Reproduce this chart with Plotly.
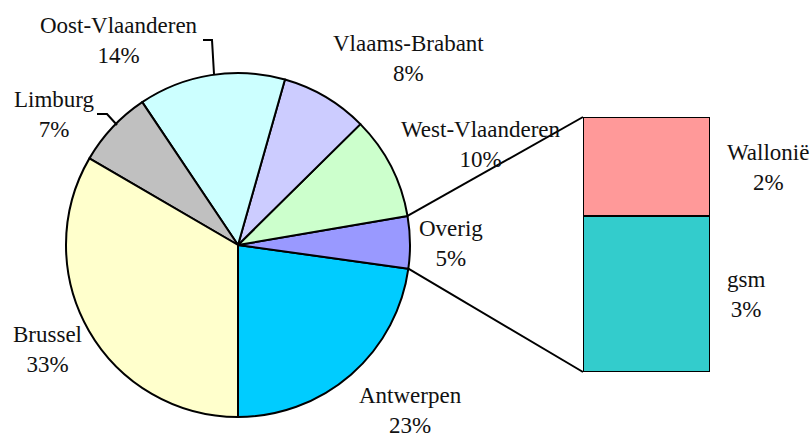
import math
import plotly.graph_objects as go

# ---- data (percent of total) ----
regions = ["Antwerpen", "Overig", "West-Vlaanderen", "Vlaams-Brabant",
           "Oost-Vlaanderen", "Limburg", "Brussel"]
shares = [22.8, 4.9, 9.7, 8.2, 13.8, 7.2, 33.4]
region_colors = ["#00CCFF", "#9999FF", "#CCFFCC", "#CCCCFF",
                 "#CCFFFF", "#C0C0C0", "#FFFFCC"]

overig_parts = ["gsm", "Wallonië"]
overig_shares = [3.0, 1.9]
overig_colors = ["#33CCCC", "#FF9999"]

W, H = 812, 437
FONT = dict(family="Liberation Serif, Times New Roman, serif", size=23, color="#111111")

def px(x):
    return x / W

def py(y):
    return 1 - y / H

total = sum(shares)

# pie geometry (pixels)
cx, cy, r = 238, 245, 172
pie_dom_x = [px(cx - r), px(cx + r)]
pie_dom_y = [py(cy + r), py(cy - r)]

# bar geometry (pixels)
bx0, bx1, by0, by1 = 583, 710, 117, 372

# first slice (Antwerpen) starts at 6 o'clock and runs counterclockwise;
# plotly places the first counterclockwise slice's end at `rotation`
rotation = 180 - 360 * shares[0] / total

fig = go.Figure()
fig.add_trace(go.Pie(
    labels=regions, values=shares, sort=False, direction="counterclockwise",
    rotation=rotation, textinfo="none", hoverinfo="label+percent",
    marker=dict(colors=region_colors, line=dict(color="black", width=2)),
    domain=dict(x=pie_dom_x, y=pie_dom_y), showlegend=False,
))

for name, val, col in zip(overig_parts, overig_shares, overig_colors):
    fig.add_trace(go.Bar(
        x=["Overig"], y=[val], name=name, xaxis="x2", yaxis="y2",
        marker=dict(color=col, line=dict(color="black", width=2)),
        showlegend=False, width=1,
    ))

label_pos = {
    "Antwerpen": (410, 410),
    "Overig": (451, 243),
    "West-Vlaanderen": (481, 145),
    "Vlaams-Brabant": (408, 58),
    "Oost-Vlaanderen": (119, 40),
    "Limburg": (54, 114),
    "Brussel": (47, 349),
}
annotations = []
for name, val in zip(regions, shares):
    x, y = label_pos[name]
    annotations.append(dict(
        x=px(x), y=py(y), xref="paper", yref="paper", showarrow=False,
        text=f"{name}<br>{round(100 * val / total)}%", font=FONT,
        xanchor="center", yanchor="middle", align="center"))

bar_label_pos = {"Wallonië": (768, 167), "gsm": (746, 294)}
for name, val in zip(overig_parts, overig_shares):
    x, y = bar_label_pos[name]
    annotations.append(dict(
        x=px(x), y=py(y), xref="paper", yref="paper", showarrow=False,
        text=f"{name}<br>{round(100 * val / total)}%", font=FONT,
        xanchor="center", yanchor="middle", align="center"))

# connector lines from Overig slice edges to bar corners
idx = regions.index("Overig")
start_frac = sum(shares[:idx]) / total
end_frac = sum(shares[:idx + 1]) / total

def pie_point(frac):
    ang = math.radians(-90 + 360 * frac)
    return cx + r * math.cos(ang), cy - r * math.sin(ang)

sx, sy = pie_point(start_frac)
ex, ey = pie_point(end_frac)
shapes = [
    dict(type="line", xref="paper", yref="paper", x0=px(ex), y0=py(ey),
         x1=px(bx0), y1=py(by0), line=dict(color="black", width=2)),
    dict(type="line", xref="paper", yref="paper", x0=px(sx), y0=py(sy),
         x1=px(bx0), y1=py(by1), line=dict(color="black", width=2)),
]

# leader lines for labels
leaders = [
    [(203, 40), (212, 40), (214, 74)],
    [(97, 114), (107, 114), (117, 125)],
]
for pts in leaders:
    path = "M " + " L ".join(f"{px(x)},{py(y)}" for x, y in pts)
    shapes.append(dict(type="path", xref="paper", yref="paper", path=path,
                       line=dict(color="black", width=2)))

fig.update_layout(
    width=W, height=H, margin=dict(l=0, r=0, t=0, b=0),
    paper_bgcolor="white", plot_bgcolor="white",
    barmode="stack", bargap=0,
    xaxis2=dict(domain=[px(bx0), px(bx1)], range=[-0.5, 0.5], visible=False,
                anchor="y2", fixedrange=True),
    yaxis2=dict(domain=[py(by1), py(by0)], range=[0, sum(overig_shares)],
                visible=False, anchor="x2", fixedrange=True),
    annotations=annotations, shapes=shapes,
)

fig.write_html("out.html", config={"displayModeBar": False},
               post_script="document.body.style.margin='0';document.body.style.overflow='hidden';")
